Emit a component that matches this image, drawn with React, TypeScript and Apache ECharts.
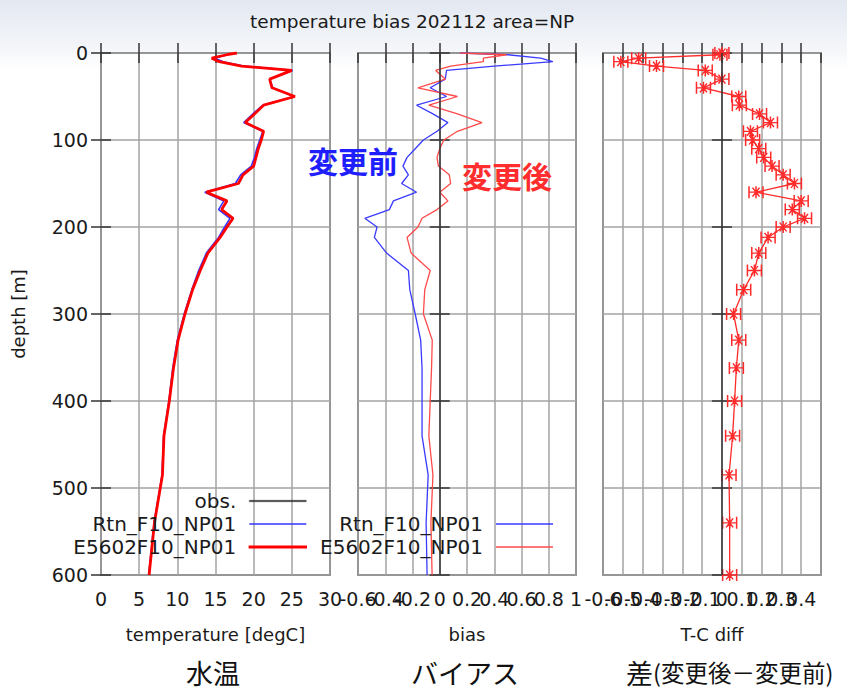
import React, { useEffect, useRef } from 'react';
import * as echarts from 'echarts';

// ---- data ----
const depths = [0, 2, 6, 10, 15, 20, 30, 40, 50, 60, 70, 80, 90, 100, 110, 120, 130, 140, 150, 160, 170, 180, 190, 200, 212, 230, 250, 272, 300, 330, 362, 400, 440, 485, 540, 600];

const tempRtn = [17.8, 16.5, 14.9, 16.0, 18.7, 25.1, 22.1, 22.5, 25.3, 21.2, 19.9, 18.7, 21.2, 20.8, 20.4, 20.1, 19.7, 18.3, 17.6, 13.6, 16.1, 15.4, 16.9, 16.2, 15.4, 13.8, 12.8, 11.9, 10.9, 10.0, 9.4, 8.9, 8.2, 8.0, 6.95, 6.25];
const tempE5602 = [17.8, 16.5, 14.5, 15.5, 18.4, 25.0, 22.1, 22.4, 25.4, 21.3, 20.1, 18.9, 21.3, 21.0, 20.6, 20.3, 20.0, 18.6, 18.0, 13.8, 16.5, 15.8, 17.3, 16.5, 15.6, 14.0, 13.0, 12.0, 11.0, 10.1, 9.5, 8.95, 8.25, 8.05, 7.0, 6.3];

const biasRtn = [0.15, 0.5, 0.74, 0.83, 0.4, 0.05, 0.04, -0.07, 0.05, -0.17, -0.05, 0.06, -0.02, -0.12, -0.18, -0.24, -0.27, -0.23, -0.28, -0.17, -0.34, -0.37, -0.55, -0.46, -0.48, -0.39, -0.23, -0.22, -0.18, -0.14, -0.13, -0.13, -0.13, -0.085, -0.1, -0.093];
const biasE5602 = [0.15, 0.49, 0.32, 0.32, 0.08, -0.03, 0.04, -0.16, 0.13, -0.08, 0.13, 0.31, 0.13, 0.03, 0.0, -0.02, -0.01, 0.07, 0.08, 0.0, 0.06, -0.02, -0.13, -0.16, -0.24, -0.21, -0.07, -0.11, -0.12, -0.055, -0.06, -0.07, -0.08, -0.05, -0.065, -0.056];

const diffTC = [0.0, -0.01, -0.42, -0.51, -0.33, -0.084, 0.0, -0.093, 0.085, 0.088, 0.19, 0.245, 0.144, 0.155, 0.186, 0.211, 0.253, 0.309, 0.366, 0.172, 0.4, 0.355, 0.417, 0.309, 0.233, 0.186, 0.164, 0.11, 0.059, 0.085, 0.073, 0.064, 0.054, 0.036, 0.039, 0.039];

const seriesNames = ['obs.', 'Rtn_F10_NP01', 'E5602F10_NP01'];
const titleText = 'temperature bias 202112 area=NP';
const xNames = ['temperature [degC]', 'bias', 'T-C diff'];
const yName = 'depth [m]';
const captions = ['水温', 'バイアス'];
const diffCaptionMain = '差';
const diffCaptionSub = '(変更後－変更前)';
const noteBefore = '変更前';
const noteAfter = '変更後';

// ---- styling ----
const FONT = "'DejaVu Sans', sans-serif";
const CJK = "'Noto Sans CJK JP', sans-serif";
const TXT = '#1a1a1a';
const TICK = { show: true, inside: true, length: 10, lineStyle: { color: '#333', width: 1.5 } };
const SPLIT = { show: true, lineStyle: { color: '#a3a3a3', width: 1.5 } };
const fmt = (v: number) => String(Math.round(v * 10) / 10);

const grids = [
  { left: 101, top: 53, width: 229, height: 522 },
  { left: 358, top: 53, width: 218, height: 522 },
  { left: 603, top: 53, width: 218, height: 522 },
].map((g) => ({ ...g, show: true, backgroundColor: '#ffffff', borderColor: '#404040', borderWidth: 1.5 }));

const ranges = [
  { min: 0, max: 30, interval: 5 },
  { min: -0.6, max: 1, interval: 0.2 },
  { min: -0.6, max: 0.5, interval: 0.1 },
];

const LABEL = { fontFamily: FONT, fontSize: 19, color: TXT, margin: 14 };

function bottomX(gi: number) {
  return {
    type: 'value', gridIndex: gi, position: 'bottom', ...ranges[gi],
    name: xNames[gi], nameLocation: 'middle', nameGap: 50,
    nameTextStyle: { fontFamily: FONT, fontSize: 18, color: TXT },
    axisLine: { show: false }, axisTick: TICK,
    axisLabel: { ...LABEL, formatter: fmt, showMinLabel: gi === 0 ? true : false, showMaxLabel: gi !== 2 },
    splitLine: SPLIT,
  };
}
// second bottom axis that only carries the first (min) tick label, so crowded labels all stay visible
function minLabelX(gi: number) {
  const mn = ranges[gi].min;
  return {
    type: 'value', gridIndex: gi, position: 'bottom', ...ranges[gi],
    axisLine: { show: false }, axisTick: { show: false }, splitLine: { show: false },
    axisLabel: { ...LABEL, showMinLabel: true, showMaxLabel: false, formatter: (v: number) => (Math.abs(v - mn) < 1e-9 ? fmt(v) : '') },
  };
}
function topX(gi: number) {
  return {
    type: 'value', gridIndex: gi, position: 'top', ...ranges[gi],
    axisLine: { show: false }, axisTick: TICK, axisLabel: { show: false }, splitLine: { show: false },
  };
}
function leftY(gi: number) {
  return {
    type: 'value', gridIndex: gi, position: 'left', min: 0, max: 600, interval: 100, inverse: true,
    name: gi === 0 ? yName : '', nameLocation: 'middle', nameGap: 74, nameRotate: 90,
    nameTextStyle: { fontFamily: FONT, fontSize: 18, color: TXT },
    axisLine: { show: false }, axisTick: TICK,
    axisLabel: { show: gi === 0, fontFamily: FONT, fontSize: 19, color: TXT, margin: 13, showMinLabel: true, showMaxLabel: true },
    splitLine: SPLIT,
  };
}
function rightY(gi: number) {
  return {
    type: 'value', gridIndex: gi, position: 'right', min: 0, max: 600, interval: 100, inverse: true,
    axisLine: { show: false }, axisTick: TICK, axisLabel: { show: false }, splitLine: { show: false },
  };
}

const pairs = (xs: number[]) => xs.map((x, i) => [x, depths[i]]);

const zeroLine = {
  silent: true, symbol: ['none', 'none'], label: { show: false },
  lineStyle: { color: '#333', width: 1.5, type: 'solid' },
  emphasis: { disabled: true },
  data: [{ xAxis: 0 }],
};

const starSymbol = 'path://M0,5L12,5M0,1L0,9M12,1L12,9M6,1L6,9M3,2L9,8M9,2L3,8';

const App = () => {
  const ref = useRef<HTMLDivElement>(null);
  useEffect(() => {
    const chart = echarts.init(ref.current!, null, { renderer: 'svg' });
    const option: any = {
      animation: false,
      backgroundColor: new echarts.graphic.LinearGradient(0, 0, 0, 1, [
        { offset: 0, color: '#e3e8f1' },
        { offset: 0.07, color: '#f4f6f9' },
        { offset: 0.1, color: '#ffffff' },
        { offset: 1, color: '#ffffff' },
      ]),
      title: {
        text: titleText, left: 245, top: 7,
        textStyle: { fontFamily: FONT, fontSize: 18.5, fontWeight: 'normal', color: TXT },
      },
      grid: grids,
      // indices: 0 bottom0, 1 top0, 2 bottom1, 3 top1, 4 bottom2, 5 top2, 6 min label 1, 7 min label 2
      xAxis: [bottomX(0), topX(0), bottomX(1), topX(1), bottomX(2), topX(2), minLabelX(1), minLabelX(2)],
      yAxis: [leftY(0), rightY(0), leftY(1), rightY(1), leftY(2), rightY(2)],
      legend: [
        {
          orient: 'vertical', align: 'right', right: 540, top: 491, padding: 0,
          itemWidth: 57, itemHeight: 1.6, itemGap: 3, icon: 'rect', selectedMode: false,
          itemStyle: { borderWidth: 0 },
          textStyle: { fontFamily: FONT, fontSize: 20, color: TXT, padding: [0, 8, 0, 0] },
          data: [
            { name: seriesNames[0], itemStyle: { color: '#333', borderColor: '#333', borderWidth: 0.3 } },
            { name: seriesNames[1], itemStyle: { color: '#3434ff', borderWidth: 0 } },
            { name: seriesNames[2], itemStyle: { color: '#ff0000', borderColor: '#ff0000', borderWidth: 1.4 } },
          ],
        },
        {
          orient: 'vertical', align: 'right', right: 294, top: 514, padding: 0,
          itemWidth: 57, itemHeight: 1.5, itemGap: 3, icon: 'rect', selectedMode: false,
          itemStyle: { borderWidth: 0 },
          textStyle: { fontFamily: FONT, fontSize: 20, color: TXT, padding: [0, 8, 0, 0] },
          data: [
            { name: seriesNames[1], itemStyle: { color: '#3a3aff', borderWidth: 0 } },
            { name: seriesNames[2], itemStyle: { color: '#ff4a4a', borderWidth: 0 } },
          ],
        },
      ],
      series: [
        { type: 'line', name: seriesNames[0], xAxisIndex: 0, yAxisIndex: 0, data: [], symbol: 'none', lineStyle: { color: '#333', width: 2 }, itemStyle: { color: '#333' } },
        { type: 'line', name: seriesNames[1], xAxisIndex: 0, yAxisIndex: 0, data: pairs(tempRtn), symbol: 'none', lineStyle: { color: '#3434ff', width: 1.6 }, itemStyle: { color: '#3434ff' } },
        { type: 'line', name: seriesNames[2], xAxisIndex: 0, yAxisIndex: 0, data: pairs(tempE5602), symbol: 'none', lineStyle: { color: '#ff0000', width: 2.8 }, itemStyle: { color: '#ff0000' } },
        { type: 'line', name: seriesNames[1], xAxisIndex: 2, yAxisIndex: 2, data: pairs(biasRtn), symbol: 'none', lineStyle: { color: '#3a3aff', width: 1.3 }, itemStyle: { color: '#3a3aff' }, markLine: zeroLine },
        { type: 'line', name: seriesNames[2], xAxisIndex: 2, yAxisIndex: 2, data: pairs(biasE5602), symbol: 'none', lineStyle: { color: '#ff4a4a', width: 1.3 }, itemStyle: { color: '#ff4a4a' } },
        {
          type: 'line', name: 'T-C diff', xAxisIndex: 4, yAxisIndex: 4, data: pairs(diffTC),
          symbol: starSymbol, symbolSize: [14, 12], showSymbol: true,
          lineStyle: { color: '#ff2a2a', width: 1.3 },
          itemStyle: { color: 'rgba(0,0,0,0)', borderColor: '#ff2a2a', borderWidth: 1.4 },
          markLine: zeroLine,
        },
      ],
      graphic: [
        { type: 'text', x: 353, y: 160, z: 100, style: { text: noteBefore, fontFamily: CJK, fontSize: 30, fontWeight: 'bold', fill: '#1e1eff', align: 'center', verticalAlign: 'middle' } },
        { type: 'text', x: 507, y: 175, z: 100, style: { text: noteAfter, fontFamily: CJK, fontSize: 30, fontWeight: 'bold', fill: '#ff2d2d', align: 'center', verticalAlign: 'middle' } },
        { type: 'text', x: 213, y: 672, style: { text: captions[0], fontFamily: CJK, fontSize: 27, fill: '#111', align: 'center', verticalAlign: 'middle' } },
        { type: 'text', x: 465, y: 672, style: { text: captions[1], fontFamily: CJK, fontSize: 27, fill: '#111', align: 'center', verticalAlign: 'middle' } },
        {
          type: 'text', x: 626, y: 672,
          style: {
            text: '{a|' + diffCaptionMain + '}{b|' + diffCaptionSub + '}',
            align: 'left', verticalAlign: 'middle',
            rich: {
              a: { fontFamily: CJK, fontSize: 27, fill: '#111' },
              b: { fontFamily: CJK, fontSize: 23.5, fill: '#111' },
            },
          },
        },
      ],
    };
    chart.setOption(option);
    return () => chart.dispose();
  }, []);
  return <div ref={ref} style={{ position: 'absolute', left: 0, top: 0, width: 847, height: 693 }} />;
};

export default App;
